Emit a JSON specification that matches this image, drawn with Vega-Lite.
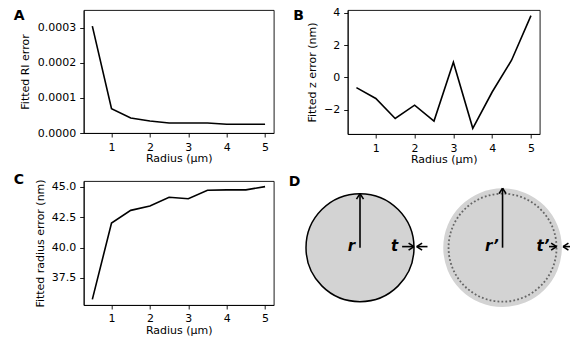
{
  "$schema": "https://vega.github.io/schema/vega-lite/v6.json",
  "padding": {"left": 12.7, "top": 6, "right": 0, "bottom": 0},
  "background": "white",
  "datasets": {
    "ri": [
      {"radius": 0.5, "value": 0.000304},
      {"radius": 1.0, "value": 0.0000693},
      {"radius": 1.5, "value": 0.0000427},
      {"radius": 2.0, "value": 0.0000342},
      {"radius": 2.5, "value": 0.0000285},
      {"radius": 3.0, "value": 0.0000285},
      {"radius": 3.5, "value": 0.0000285},
      {"radius": 4.0, "value": 0.0000247},
      {"radius": 4.5, "value": 0.0000247},
      {"radius": 5.0, "value": 0.0000247}
    ],
    "z": [
      {"radius": 0.5, "value": -0.63},
      {"radius": 1.0, "value": -1.3},
      {"radius": 1.5, "value": -2.53},
      {"radius": 2.0, "value": -1.71},
      {"radius": 2.5, "value": -2.69},
      {"radius": 3.0, "value": 0.94},
      {"radius": 3.5, "value": -3.14},
      {"radius": 4.0, "value": -0.9},
      {"radius": 4.5, "value": 1.06},
      {"radius": 5.0, "value": 3.81}
    ],
    "rad": [
      {"radius": 0.5, "value": 35.74},
      {"radius": 1.0, "value": 42.01},
      {"radius": 1.5, "value": 43.05},
      {"radius": 2.0, "value": 43.4},
      {"radius": 2.5, "value": 44.12},
      {"radius": 3.0, "value": 44.0},
      {"radius": 3.5, "value": 44.7},
      {"radius": 4.0, "value": 44.73},
      {"radius": 4.5, "value": 44.73},
      {"radius": 5.0, "value": 45.0}
    ],
    "circles": [
      {"cx": 0, "cy": 0, "part": "solid"},
      {"cx": 2.64, "cy": 0, "part": "outer"},
      {"cx": 2.64, "cy": 0, "part": "dotted"}
    ],
    "arrows": [
      {"x": 0, "y": 0, "x2": 0, "y2": 1.0},
      {"x": 0, "y": 1.0, "x2": -0.065, "y2": 0.9},
      {"x": 0, "y": 1.0, "x2": 0.065, "y2": 0.9},
      {"x": 0.78, "y": 0.02, "x2": 1.0, "y2": 0.02},
      {"x": 1.0, "y": 0.02, "x2": 0.9, "y2": 0.085},
      {"x": 1.0, "y": 0.02, "x2": 0.9, "y2": -0.045},
      {"x": 1.25, "y": 0.02, "x2": 1.05, "y2": 0.02},
      {"x": 1.05, "y": 0.02, "x2": 1.15, "y2": 0.085},
      {"x": 1.05, "y": 0.02, "x2": 1.15, "y2": -0.045},
      {"x": 2.64, "y": 0, "x2": 2.64, "y2": 1.1},
      {"x": 2.64, "y": 1.1, "x2": 2.575, "y2": 1.0},
      {"x": 2.64, "y": 1.1, "x2": 2.705, "y2": 1.0},
      {"x": 3.5, "y": 0.02, "x2": 3.64, "y2": 0.02},
      {"x": 3.64, "y": 0.02, "x2": 3.54, "y2": 0.085},
      {"x": 3.64, "y": 0.02, "x2": 3.54, "y2": -0.045},
      {"x": 3.98, "y": 0.02, "x2": 3.76, "y2": 0.02},
      {"x": 3.76, "y": 0.02, "x2": 3.86, "y2": 0.085},
      {"x": 3.76, "y": 0.02, "x2": 3.86, "y2": -0.045}
    ],
    "labels": [
      {"x": -0.157, "y": -0.055, "label": "r"},
      {"x": 0.64, "y": -0.055, "label": "t"},
      {"x": 2.44, "y": -0.055, "label": "r’"},
      {"x": 3.39, "y": -0.055, "label": "t’"}
    ]
  },
  "config": {
    "font": "DejaVu Sans",
    "view": {"stroke": "black", "strokeWidth": 0.9},
    "axis": {
      "grid": false,
      "domainColor": "black",
      "domainWidth": 0.9,
      "tickColor": "black",
      "tickWidth": 0.9,
      "tickSize": 4,
      "labelPadding": 4,
      "labelFont": "DejaVu Sans",
      "labelFontSize": 11,
      "labelColor": "black",
      "titleFont": "DejaVu Sans",
      "titleFontSize": 11,
      "titleFontWeight": "normal",
      "titleColor": "black"
    },
    "title": {
      "font": "DejaVu Sans",
      "fontSize": 14,
      "fontWeight": "bold",
      "color": "black",
      "anchor": "start",
      "frame": "group",
      "offset": -13
    }
  },
  "bounds": "flush",
  "align": "each",
  "columns": 2,
  "spacing": {"column": 74, "row": 47},
  "concat": [
    {
      "width": 190,
      "height": 123,
      "title": {"text": "A", "dx": -70},
      "data": {"name": "ri"},
      "mark": {"type": "line", "color": "black", "strokeWidth": 1.6},
      "encoding": {
        "x": {"field": "radius", "type": "quantitative",
          "scale": {"domain": [0.275, 5.225], "nice": false, "zero": false},
          "axis": {"title": "Radius (μm)", "values": [1, 2, 3, 4, 5], "format": "d", "titleY": 28.5, "titleBaseline": "alphabetic"}},
        "y": {"field": "value", "type": "quantitative",
          "scale": {"domain": [0, 0.00035], "nice": false, "zero": false},
          "axis": {"title": "Fitted RI error", "values": [0, 0.0001, 0.0002, 0.0003], "format": ".4f", "titleX": -54.7, "titleBaseline": "alphabetic"}}
      }
    },
    {
      "width": 192,
      "height": 124,
      "title": {"text": "B", "dx": -54.4, "dy": 3},
      "data": {"name": "z"},
      "mark": {"type": "line", "color": "black", "strokeWidth": 1.6},
      "encoding": {
        "x": {"field": "radius", "type": "quantitative",
          "scale": {"domain": [0.275, 5.225], "nice": false, "zero": false},
          "axis": {"title": "Radius (μm)", "values": [1, 2, 3, 4, 5], "format": "d", "titleY": 28.5, "titleBaseline": "alphabetic"}},
        "y": {"field": "value", "type": "quantitative",
          "scale": {"domain": [-3.49, 4.16], "nice": false, "zero": false},
          "axis": {"title": "Fitted z error (nm)", "values": [-2, 0, 2, 4], "format": "d", "titleX": -31.7, "titleBaseline": "alphabetic"}}
      }
    },
    {
      "width": 190,
      "height": 124,
      "title": {"text": "C", "dx": -70, "dy": -5},
      "data": {"name": "rad"},
      "mark": {"type": "line", "color": "black", "strokeWidth": 1.6},
      "encoding": {
        "x": {"field": "radius", "type": "quantitative",
          "scale": {"domain": [0.275, 5.225], "nice": false, "zero": false},
          "axis": {"title": "Radius (μm)", "values": [1, 2, 3, 4, 5], "format": "d", "titleY": 28.5, "titleBaseline": "alphabetic"}},
        "y": {"field": "value", "type": "quantitative",
          "scale": {"domain": [35.28, 45.46], "nice": false, "zero": false},
          "axis": {"title": "Fitted radius error (nm)", "values": [37.5, 40, 42.5, 45], "format": ".1f", "titleX": -40.5, "titleBaseline": "alphabetic"}}
      }
    },
    {
      "width": 223,
      "height": 150,
      "view": {"stroke": null},
      "title": {"text": "D", "dx": -59, "dy": -5},
      "layer": [
        {
          "data": {"name": "circles"},
          "transform": [{"filter": "datum.part === 'solid'"}],
          "mark": {"type": "point", "shape": "circle", "filled": true, "fill": "#d3d3d3", "stroke": "black", "strokeWidth": 1.5, "opacity": 1, "size": 11664},
          "encoding": {
            "x": {"field": "cx", "type": "quantitative", "scale": {"domain": [-0.228, 3.902], "nice": false, "zero": false}, "axis": null},
            "y": {"field": "cy", "type": "quantitative", "scale": {"domain": [-1.543, 1.235], "nice": false, "zero": false}, "axis": null}
          }
        },
        {
          "data": {"name": "circles"},
          "transform": [{"filter": "datum.part === 'outer'"}],
          "mark": {"type": "point", "shape": "circle", "filled": true, "fill": "#d3d3d3", "strokeWidth": 0, "opacity": 1, "size": 14066},
          "encoding": {
            "x": {"field": "cx", "type": "quantitative"},
            "y": {"field": "cy", "type": "quantitative"}
          }
        },
        {
          "data": {"name": "circles"},
          "transform": [{"filter": "datum.part === 'dotted'"}],
          "mark": {"type": "point", "shape": "circle", "filled": false, "stroke": "#666666", "strokeWidth": 1.8, "strokeDash": [1.8, 2.2], "opacity": 1, "size": 11664},
          "encoding": {
            "x": {"field": "cx", "type": "quantitative"},
            "y": {"field": "cy", "type": "quantitative"}
          }
        },
        {
          "data": {"name": "arrows"},
          "mark": {"type": "rule", "color": "black", "strokeWidth": 1.6},
          "encoding": {
            "x": {"field": "x", "type": "quantitative"},
            "y": {"field": "y", "type": "quantitative"},
            "x2": {"field": "x2"},
            "y2": {"field": "y2"}
          }
        },
        {
          "data": {"name": "labels"},
          "mark": {"type": "text", "font": "DejaVu Sans", "fontSize": 15, "fontWeight": "bold", "fontStyle": "italic", "color": "black", "align": "center", "baseline": "alphabetic"},
          "encoding": {
            "x": {"field": "x", "type": "quantitative"},
            "y": {"field": "y", "type": "quantitative"},
            "text": {"field": "label"}
          }
        }
      ]
    }
  ]
}
